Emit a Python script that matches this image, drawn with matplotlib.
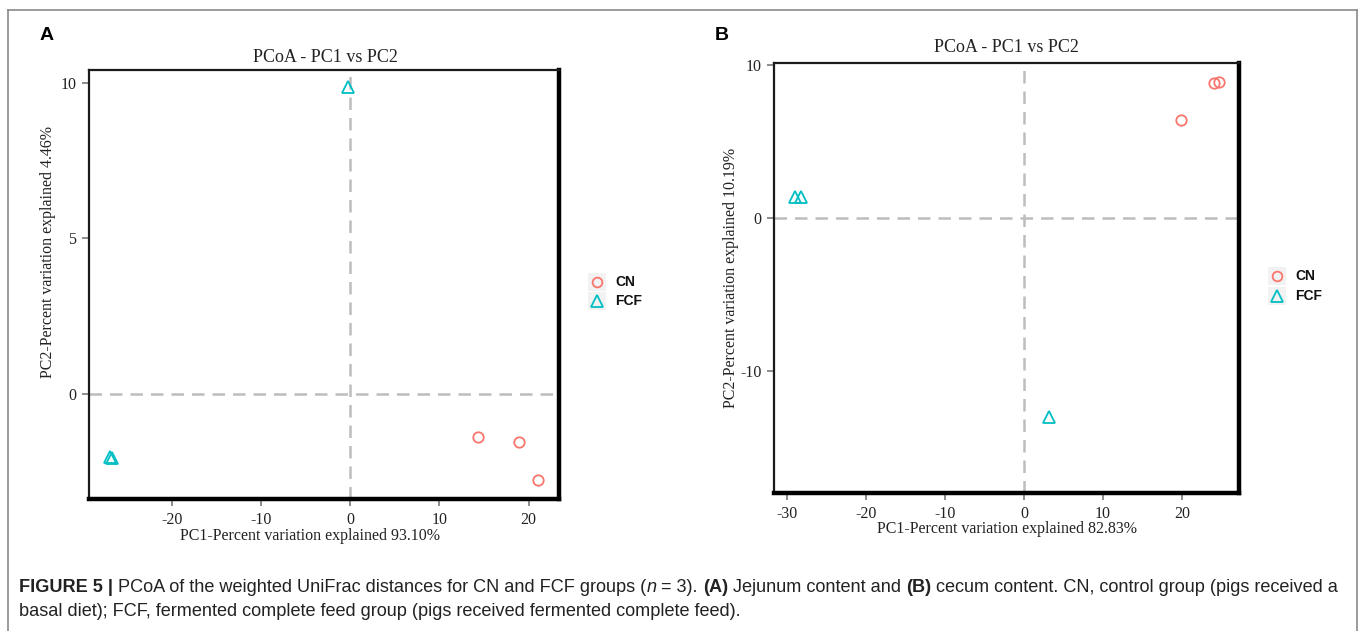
import matplotlib
matplotlib.use("Agg")
import matplotlib.pyplot as plt
from matplotlib.patches import Rectangle
from matplotlib.lines import Line2D

# ---------------- data ----------------
groups = ["CN", "FCF"]
colors = {"CN": "#F8766D", "FCF": "#00BFC4"}
markers = {"CN": "o", "FCF": "^"}

a_cn_x = [14.3, 18.9, 21.1]
a_cn_y = [-1.38, -1.55, -2.77]
a_fcf_x = [-27.0, -26.7, -0.3]
a_fcf_y = [-2.03, -2.05, 9.87]

b_cn_x = [19.9, 24.1, 24.7]
b_cn_y = [6.4, 8.85, 8.9]
b_fcf_x = [-29.0, -28.2, 3.2]
b_fcf_y = [1.35, 1.35, -13.0]

a_xticks = [-20, -10, 0, 10, 20]
a_yticks = [0, 5, 10]
b_xticks = [-30, -20, -10, 0, 10, 20]
b_yticks = [-10, 0, 10]

title = "PCoA - PC1 vs PC2"
a_xlabel = "PC1-Percent variation explained 93.10%"
a_ylabel = "PC2-Percent variation explained 4.46%"
b_xlabel = "PC1-Percent variation explained 82.83%"
b_ylabel = "PC2-Percent variation explained 10.19%"

# ---------------- figure ----------------
W, H = 1360, 631
fig = plt.figure(figsize=(W / 100, H / 100), dpi=100)
fig.patch.set_facecolor("white")

def fx(px):
    return px / W

def fy(py):
    return 1 - py / H

SERIF = "Liberation Serif"
SANS = "Liberation Sans"

# outer border
fig.add_artist(Line2D([fx(8), fx(8)], [fy(10), 0], color="#8a8a8a", lw=1.2, transform=fig.transFigure))
fig.add_artist(Line2D([fx(8), fx(1357)], [fy(10), fy(10)], color="#8a8a8a", lw=1.2, transform=fig.transFigure))
fig.add_artist(Line2D([fx(1357), fx(1357)], [fy(10), 0], color="#8a8a8a", lw=1.2, transform=fig.transFigure))


def panel(rect, xs_cn, ys_cn, xs_fcf, ys_fcf, xlim, ylim, xticks, yticks):
    ax = fig.add_axes(rect)
    ax.axhline(0, color="#BDBDBD", lw=1.8, ls=(0, (5, 3.2)), zorder=1)
    ax.axvline(0, color="#BDBDBD", lw=1.8, ls=(0, (5, 3.2)), zorder=1)
    ax.plot(xs_cn, ys_cn, ls="none", marker=markers["CN"], ms=7.5, mfc="none",
            mec=colors["CN"], mew=1.3, zorder=3)
    ax.plot(xs_fcf, ys_fcf, ls="none", marker=markers["FCF"], ms=8, mfc="none",
            mec=colors["FCF"], mew=1.3, zorder=3)
    ax.set_xlim(*xlim)
    ax.set_ylim(*ylim)
    ax.set_xticks(xticks)
    ax.set_yticks(yticks)
    ax.set_xticklabels([str(t) for t in xticks], fontfamily=SERIF, fontsize=11.5, color="#222222")
    ax.set_yticklabels([str(t) for t in yticks], fontfamily=SERIF, fontsize=11.5, color="#222222")
    ax.tick_params(direction="out", length=5, width=1.4, color="#8c8c8c", pad=4)
    for side in ["left", "top"]:
        ax.spines[side].set_linewidth(1.6)
        ax.spines[side].set_color("#1a1a1a")
    for side in ["right", "bottom"]:
        ax.spines[side].set_linewidth(3.2)
        ax.spines[side].set_color("black")
    return ax


axA = panel([fx(89), fy(499), fx(559) - fx(89), fy(70) - fy(499)],
            a_cn_x, a_cn_y, a_fcf_x, a_fcf_y,
            (-29.3, 23.4), (-3.38, 10.42), a_xticks, a_yticks)
axB = panel([fx(774), fy(493), fx(1239) - fx(774), fy(63) - fy(493)],
            b_cn_x, b_cn_y, b_fcf_x, b_fcf_y,
            (-31.6, 27.2), (-18.0, 10.13), b_xticks, b_yticks)

# titles / labels
fig.text(fx(325), fy(57), title, ha="center", va="center", fontfamily=SERIF, fontsize=13, color="#222222")
fig.text(fx(1006), fy(48), title, ha="center", va="center", fontfamily=SERIF, fontsize=13, color="#222222")
fig.text(fx(310), fy(536), a_xlabel, ha="center", va="center", fontfamily=SERIF, fontsize=11.5, color="#222222")
fig.text(fx(1007), fy(529), b_xlabel, ha="center", va="center", fontfamily=SERIF, fontsize=11.5, color="#222222")
fig.text(fx(48), fy(252), a_ylabel, ha="center", va="center", rotation=90, fontfamily=SERIF, fontsize=11.5, color="#222222")
fig.text(fx(731), fy(278), b_ylabel, ha="center", va="center", rotation=90, fontfamily=SERIF, fontsize=11.5, color="#222222")

# panel letters
fig.text(fx(40), fy(35), "A", ha="left", va="center", fontfamily=SANS, fontweight="bold", fontsize=14)
fig.text(fx(715), fy(35), "B", ha="left", va="center", fontfamily=SANS, fontweight="bold", fontsize=14)


# legends (manual, ggplot-like keys)
def legend(x0, y0, dy):
    for i, g in enumerate(groups):
        cy = y0 + i * dy
        fig.add_artist(Rectangle((fx(x0 - 9), fy(cy + 9)), 18 / W, 18 / H, transform=fig.transFigure,
                                 facecolor="#F2F2F2", edgecolor="none", zorder=0))
        fig.add_artist(Line2D([fx(x0)], [fy(cy)], transform=fig.transFigure, ls="none",
                              marker=markers[g], ms=7 if g == "CN" else 8, mfc="none",
                              mec=colors[g], mew=1.3))
        fig.text(fx(x0 + 18), fy(cy), g, ha="left", va="center", fontfamily=SANS,
                 fontweight="bold", fontsize=10, color="#111111")


legend(597, 282, 19)
legend(1277, 276, 20)

# caption
cap_fs = 13.1
y1 = fy(592)
y2 = fy(616)
t = fig.text(fx(19), y1, "FIGURE 5 |", ha="left", va="baseline", fontfamily=SANS,
             fontweight="bold", fontsize=cap_fs, color="#222222")
pieces = [
    (" PCoA of the weighted UniFrac distances for CN and FCF groups (", "normal", "normal"),
    ("n", "normal", "italic"),
    (" = 3). ", "normal", "normal"),
    ("(A)", "bold", "normal"),
    (" Jejunum content and ", "normal", "normal"),
    ("(B)", "bold", "normal"),
    (" cecum content. CN, control group (pigs received a", "normal", "normal"),
]
prev = t
for txt, wt, st in pieces:
    prev = plt.annotate(txt, xy=(1, 0), xycoords=prev, va="bottom", ha="left",
                        fontfamily=SANS, fontweight=wt, fontstyle=st, fontsize=cap_fs,
                        color="#222222", annotation_clip=False)
fig.text(fx(19), y2, "basal diet); FCF, fermented complete feed group (pigs received fermented complete feed).",
         ha="left", va="baseline", fontfamily=SANS, fontsize=cap_fs, color="#222222")

fig.savefig("out.png", dpi=100)
